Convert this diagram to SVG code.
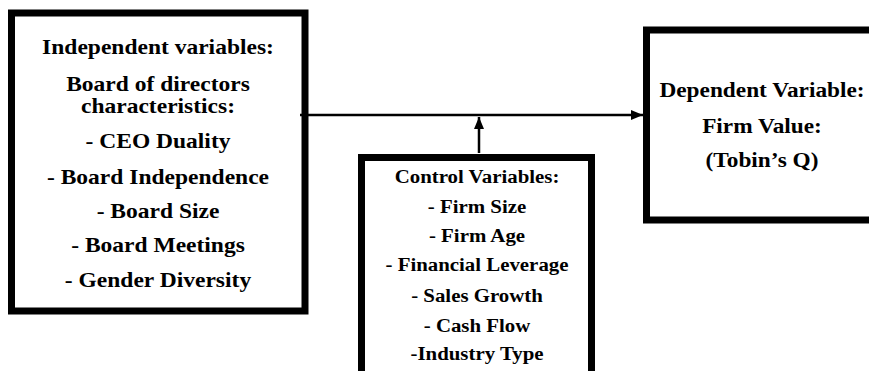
<svg xmlns="http://www.w3.org/2000/svg" width="869" height="371" viewBox="0 0 869 371">
<style>
.box{fill:#fff;stroke:#000;stroke-width:7}
.t{font-family:"Liberation Serif","Times New Roman",serif;font-weight:bold;fill:#000;text-anchor:middle}
.big{font-size:21px}
.small{font-size:18.3px}
.con{stroke:#000;stroke-width:2.5;fill:none}
</style>
<defs>
<marker id="ah" viewBox="0 0 12 10" refX="12" refY="5" markerWidth="12" markerHeight="10" markerUnits="userSpaceOnUse" orient="auto">
<path d="M0,0 L12,5 L0,10 z" fill="#000"/>
</marker>
</defs>
<rect width="869" height="371" fill="#fff"/>
<g id="independent">
<rect class="box" x="11.5" y="13" width="293.5" height="298"/>
<g transform="translate(158 0) scale(1.12 1)">
<text class="t big" x="0" y="54">Independent variables:</text>
<text class="t big" x="0" y="91">Board of directors</text>
<text class="t big" x="0" y="113">characteristics:</text>
<text class="t big" x="0" y="148">- CEO Duality</text>
<text class="t big" x="0" y="184">- Board Independence</text>
<text class="t big" x="0" y="218">- Board Size</text>
<text class="t big" x="0" y="252">- Board Meetings</text>
<text class="t big" x="0" y="287">- Gender Diversity</text>
</g>
</g>
<g id="control">
<rect class="box" x="361.5" y="157.5" width="230" height="230"/>
<g transform="translate(477 0) scale(1.14 1)">
<text class="t small" x="0" y="183">Control Variables:</text>
<text class="t small" x="0" y="213">- Firm Size</text>
<text class="t small" x="0" y="242">- Firm Age</text>
<text class="t small" x="0" y="271">- Financial Leverage</text>
<text class="t small" x="0" y="302">- Sales Growth</text>
<text class="t small" x="0" y="332">- Cash Flow</text>
<text class="t small" x="0" y="360">-Industry Type</text>
</g>
</g>
<g id="dependent">
<rect class="box" x="646.5" y="30" width="240" height="190"/>
<g transform="translate(762 0) scale(1.11 1)">
<text class="t big" x="0" y="97">Dependent Variable:</text>
<text class="t big" x="0" y="133">Firm Value:</text>
<text class="t big" x="0" y="167">(Tobin’s Q)</text>
</g>
</g>
<g id="connectors">
<line class="con" x1="300" y1="115" x2="643" y2="115" marker-end="url(#ah)"/>
<line class="con" x1="479" y1="153" x2="479" y2="117" marker-end="url(#ah)"/>
</g>
</svg>
